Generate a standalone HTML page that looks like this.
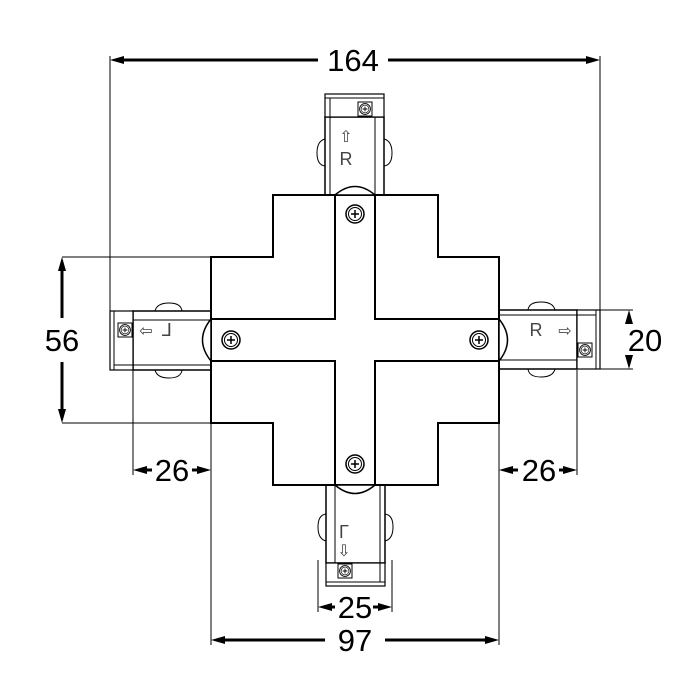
<!DOCTYPE html>
<html><head><style>body{margin:0;background:#fff}svg{display:block}</style></head><body>
<svg width="700" height="700" viewBox="0 0 700 700" xmlns="http://www.w3.org/2000/svg" font-family="Liberation Sans, sans-serif">
<defs>
<g id="screw"><circle r="9" fill="#fff" stroke="#000" stroke-width="1.5"/><circle r="6.5" fill="none" stroke="#000" stroke-width="1"/><path d="M-4 0H4M0 -4V4" stroke="#000" stroke-width="1.5"/></g>
<g id="rail" fill="none" stroke="#000">
<rect x="0" y="-30" width="78" height="59" fill="#fff" stroke-width="1.5"/>
<line x1="0" y1="-25" x2="78" y2="-25"/><line x1="0" y1="20" x2="78" y2="20"/>
<rect x="78" y="-30" width="23" height="59" fill="#fff" stroke-width="1.2"/>
<line x1="78" y1="-25" x2="97" y2="-25"/><line x1="97" y1="-30" x2="97" y2="29"/>
<rect x="79" y="3" width="14" height="14"/><g transform="translate(86,10) scale(0.6)"><use href="#screw"/></g>
<path d="M29 -30 Q30 -38 42 -38 Q54 -38 56 -30" stroke-width="1"/>
<path d="M29 29 Q30 37 42 37 Q54 37 56 29" stroke-width="1"/>
<rect x="-2" y="-40" width="2" height="10" fill="#000" stroke="none"/>
<rect x="-2" y="29" width="2" height="10" fill="#000" stroke="none"/>
</g>
</defs>

<use href="#rail" transform="translate(499,340)"/>
<use href="#rail" transform="translate(211,340) rotate(180)"/>
<use href="#rail" transform="translate(355,195) rotate(-90)"/>
<use href="#rail" transform="translate(355,485) rotate(90)"/>

<path d="M273 195H438V257H499V423H438V485H273V423H211V257H273Z" fill="#fff" stroke="#000" stroke-width="2"/>
<g fill="none" stroke="#000" stroke-width="2">
<path d="M335 195V319H211M375 195V319H499M335 485V361H211M375 485V361H499"/>
</g>
<g fill="#fff" stroke="#000" stroke-width="1.5">
<path d="M335 195 Q355 178 375 195Z"/>
<path d="M335 485 Q355 502 375 485Z"/>
<path d="M211 319 Q194 340 211 361Z"/>
<path d="M499 319 Q516 340 499 361Z"/>
</g>
<use href="#screw" x="355" y="214"/>
<use href="#screw" x="355" y="464"/>
<use href="#screw" x="231" y="340"/>
<use href="#screw" x="479" y="340"/>

<g font-size="18" fill="#444" text-anchor="middle">
<text x="346" y="165">R</text><text x="346" y="142" font-size="16">⇧</text>
<text x="536" y="336">R</text><text x="565" y="336" font-size="16">⇨</text>
<text x="167" y="336">⅃</text><text x="146" y="336" font-size="16">⇦</text>
<text x="344" y="538">Γ</text><text x="344" y="556" font-size="16">⇩</text>
</g>

<g stroke="#000" stroke-width="1" fill="none">
<line x1="110" y1="56" x2="110" y2="330"/><line x1="600" y1="56" x2="600" y2="330"/>
<line x1="62" y1="257" x2="211" y2="257"/><line x1="62" y1="423" x2="211" y2="423"/>
<line x1="577" y1="310" x2="633" y2="310"/><line x1="577" y1="369" x2="633" y2="369"/>
<line x1="133" y1="370" x2="133" y2="475"/><line x1="211" y1="423" x2="211" y2="645"/>
<line x1="499" y1="423" x2="499" y2="645"/><line x1="577" y1="370" x2="577" y2="475"/>
<line x1="318" y1="560" x2="318" y2="612"/><line x1="392" y1="560" x2="392" y2="612"/>
</g>
<g stroke="#000" stroke-width="3">
<line x1="120" y1="60" x2="318" y2="60"/><line x1="388" y1="60" x2="590" y2="60"/>
<line x1="62" y1="267" x2="62" y2="318"/><line x1="62" y1="362" x2="62" y2="413"/>
<line x1="629" y1="320" x2="629" y2="324"/><line x1="629" y1="356" x2="629" y2="359"/>
<line x1="143" y1="470" x2="152" y2="470"/><line x1="192" y1="470" x2="201" y2="470"/>
<line x1="509" y1="470" x2="518" y2="470"/><line x1="559" y1="470" x2="567" y2="470"/>
<line x1="328" y1="607" x2="335" y2="607"/><line x1="373" y1="607" x2="382" y2="607"/>
<line x1="221" y1="640" x2="325" y2="640"/><line x1="385" y1="640" x2="489" y2="640"/>
</g>
<g fill="#000">
<path d="M110 60l14-4v8z M600 60l-14-4v8z"/>
<path d="M62 257l-4 14h8z M62 423l-4-14h8z"/>
<path d="M629 310l-4 14h8z M629 369l-4-14h8z"/>
<path d="M133 470l14-4v8z M211 470l-14-4v8z"/>
<path d="M499 470l14-4v8z M577 470l-14-4v8z"/>
<path d="M318 607l14-4v8z M392 607l-14-4v8z"/>
<path d="M211 640l14-4v8z M499 640l-14-4v8z"/>
</g>
<g font-size="31" text-anchor="middle" fill="#000">
<text x="353" y="71">164</text>
<text x="62" y="351">56</text>
<text x="645" y="351">20</text>
<text x="172" y="481">26</text>
<text x="539" y="481">26</text>
<text x="355" y="618">25</text>
<text x="355" y="651">97</text>
</g>
</svg>
</body></html>
